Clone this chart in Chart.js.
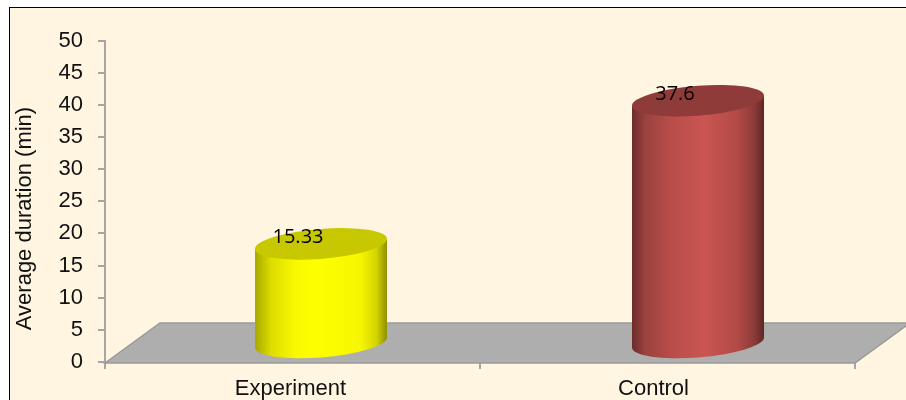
<!DOCTYPE html>
<html>
<head>
<meta charset="utf-8">
<title>Average duration</title>
<script src="https://cdn.jsdelivr.net/npm/chart.js@4/dist/chart.umd.js"></script>
<style>
  html, body { margin: 0; padding: 0; background: #fff; }
  canvas { display: block; }
</style>
</head>
<body>
<canvas id="myChart" width="906" height="400"></canvas>
<script>
const categories = ['Experiment', 'Control'];
const durations = [15.33, 37.6];
const yTicks = [0, 5, 10, 15, 20, 25, 30, 35, 40, 45, 50];
const yTitle = 'Average duration (min)';

const topColors = ['#c8c800', '#8e3b39'];
const bodyStops = [
  [[0, '#a8a800'], [0.12, '#dcdc00'], [0.3, '#f8f800'], [0.45, '#ffff00'], [0.8, '#f6f600'], [0.92, '#d4d400'], [1, '#8f8f00']],
  [[0, '#6c2c2a'], [0.1, '#9a423f'], [0.3, '#b94d4a'], [0.55, '#ca5551'], [0.8, '#b24a47'], [0.93, '#8a3a38'], [1, '#5e2625']],
];

const GREY = '#a6a6a6';
const TEXT = '#111';
const AXIS_FAMILY = '"Liberation Sans", Arial, sans-serif';

// cream panel with a thin black edge on the left and top
const panel = {
  id: 'panel',
  beforeDraw(chart) {
    const { ctx, width, height } = chart;
    ctx.save();
    ctx.fillStyle = '#fff5e0';
    ctx.fillRect(9, 7, width - 9, height - 7);
    ctx.fillStyle = '#000';
    ctx.fillRect(9, 7, width - 9, 1);
    ctx.fillRect(9, 7, 1, height - 7);
    ctx.restore();
  },
};

// grey floor running back from the x axis
const floor = {
  id: 'floor',
  beforeDatasetsDraw(chart) {
    const { ctx, chartArea } = chart;
    const { left, right, bottom } = chartArea;
    ctx.save();
    ctx.beginPath();
    ctx.moveTo(left, bottom + 1);
    ctx.lineTo(left + 55, bottom - 39);
    ctx.lineTo(right + 55, bottom - 39);
    ctx.lineTo(right, bottom + 1);
    ctx.closePath();
    ctx.fillStyle = '#aeaeae';
    ctx.fill();
    ctx.strokeStyle = '#9a9a9a';
    ctx.lineWidth = 1.5;
    ctx.stroke();
    ctx.restore();
  },
};

// bars are drawn as tilted cylinders, standing on the floor
const backShift = [28.5, 30.5];
const cylinders = {
  id: 'cylinders',
  afterDatasetsDraw(chart) {
    const { ctx } = chart;
    const bars = chart.getDatasetMeta(0).data;
    const tilt = 5, ry = 15;

    bars.forEach((bar, i) => {
      const rx = bar.width / 2;
      const cx = bar.x + backShift[i];
      const topY = bar.y - 19.5;
      const baseY = bar.base - 18.5;

      const gradient = ctx.createLinearGradient(cx - rx, 0, cx + rx, 0);
      bodyStops[i].forEach(([at, colour]) => gradient.addColorStop(at, colour));

      ctx.save();
      ctx.beginPath();
      ctx.moveTo(cx - rx, topY + tilt);
      ctx.lineTo(cx + rx, topY - tilt);
      ctx.lineTo(cx + rx, baseY - tilt);
      ctx.transform(1, -tilt / rx, 0, 1, cx, baseY);
      ctx.ellipse(0, 0, rx, ry, 0, 0, Math.PI);
      ctx.setTransform(1, 0, 0, 1, 0, 0);
      ctx.closePath();
      ctx.fillStyle = gradient;
      ctx.fill();

      ctx.transform(1, -tilt / rx, 0, 1, cx, topY);
      ctx.beginPath();
      ctx.ellipse(0, 0, rx, ry, 0, 0, Math.PI * 2);
      ctx.fillStyle = topColors[i];
      ctx.fill();
      ctx.restore();

      ctx.save();
      ctx.font = '20px "Open Sans", sans-serif';
      ctx.fillStyle = '#000';
      ctx.textAlign = 'center';
      ctx.textBaseline = 'middle';
      ctx.fillText(String(durations[i]), cx - 23, topY - 6.5);
      ctx.restore();
    });
  },
};

// category names and the y title do not sit centred on their axes, so they are placed here
const labelShift = [-2, -14];
const axisLabels = {
  id: 'axisLabels',
  afterDraw(chart) {
    const { ctx, scales, chartArea } = chart;
    ctx.save();
    ctx.font = '22px ' + AXIS_FAMILY;
    ctx.fillStyle = TEXT;
    ctx.textAlign = 'center';
    ctx.textBaseline = 'middle';
    categories.forEach((name, i) => {
      ctx.fillText(name, scales.x.getPixelForValue(i) + labelShift[i], chartArea.bottom + 27);
    });
    ctx.translate(25, chartArea.top + 178);
    ctx.rotate(-Math.PI / 2);
    ctx.fillText(yTitle, 0, 0);
    ctx.restore();
  },
};

new Chart(document.getElementById('myChart'), {
  type: 'bar',
  data: {
    labels: categories,
    datasets: [{
      label: yTitle,
      data: durations,
      backgroundColor: 'transparent',
      barThickness: 132,
    }],
  },
  options: {
    responsive: false,
    animation: false,
    layout: { padding: { top: 40.5, right: 51, left: 0, bottom: 0 } },
    plugins: { legend: { display: false }, tooltip: { enabled: false } },
    scales: {
      x: {
        afterFit(scale) { scale.height = 38; },
        border: { color: GREY, width: 2 },
        grid: { drawOnChartArea: false, color: GREY, lineWidth: 2, tickLength: 7 },
        ticks: { display: false },
      },
      y: {
        min: 0,
        max: 50,
        afterFit(scale) { scale.width = 105; },
        afterBuildTicks(scale) { scale.ticks = yTicks.map((value) => ({ value })); },
        border: { color: GREY, width: 2 },
        grid: { drawOnChartArea: false, color: GREY, lineWidth: 2, tickLength: 7 },
        ticks: { color: TEXT, font: { family: AXIS_FAMILY, size: 22 }, padding: 15 },
      },
    },
  },
  plugins: [panel, floor, cylinders, axisLabels],
});
</script>
</body>
</html>
